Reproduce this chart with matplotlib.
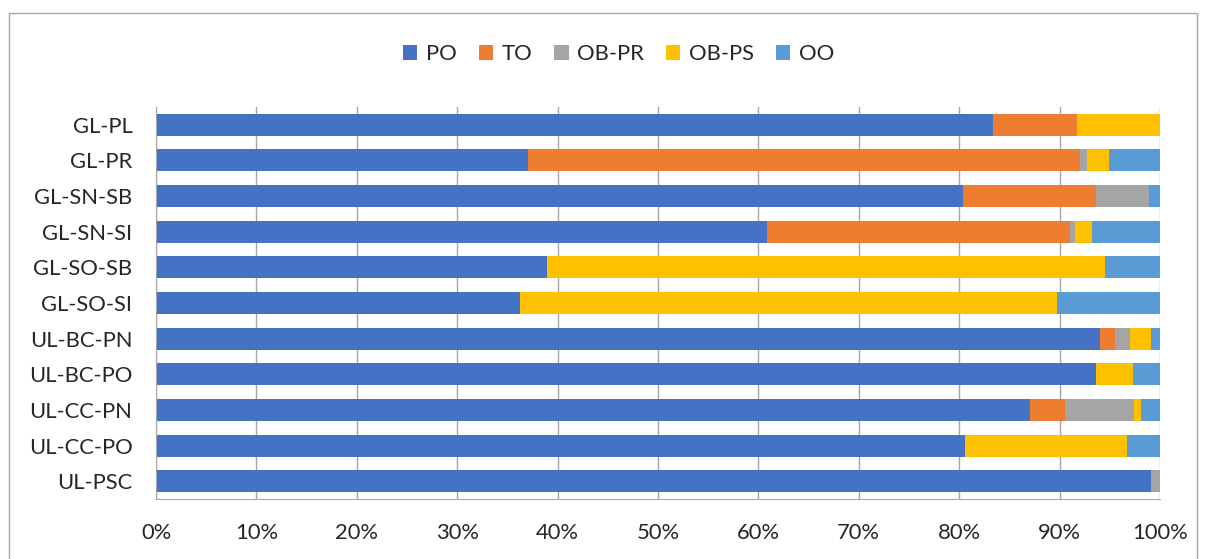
import matplotlib.pyplot as plt
from matplotlib.patches import Rectangle
import numpy as np

plt.rcParams['font.family'] = ['Lato', 'DejaVu Sans']

# sites, top to bottom
sites = ["GL-PL", "GL-PR", "GL-SN-SB", "GL-SN-SI", "GL-SO-SB", "GL-SO-SI",
         "UL-BC-PN", "UL-BC-PO", "UL-CC-PN", "UL-CC-PO", "UL-PSC"]

# share of each category per site (%)
po   = [83.4, 37.0, 80.4, 60.9, 38.9, 36.2, 94.0, 93.6, 87.0, 80.6, 99.1]
to   = [8.3, 55.0, 13.2, 30.1, 0.0, 0.0, 1.5, 0.0, 3.5, 0.0, 0.0]
ob_pr = [0.0, 0.7, 5.3, 0.5, 0.0, 0.0, 1.5, 0.0, 6.9, 0.0, 0.9]
ob_ps = [8.3, 2.2, 0.0, 1.7, 55.6, 53.5, 2.1, 3.7, 0.7, 16.1, 0.0]
oo   = [0.0, 5.1, 1.1, 6.8, 5.5, 10.3, 0.9, 2.7, 1.9, 3.3, 0.0]

series = [("PO", po, "#4472C4"), ("TO", to, "#ED7D31"),
          ("OB-PR", ob_pr, "#A5A5A5"), ("OB-PS", ob_ps, "#FFC000"),
          ("OO", oo, "#5B9BD5")]

fig = plt.figure(figsize=(12.06, 5.59), dpi=100)
ax = fig.add_axes([0.1294, 0.1073, 0.8325, 0.7013])

y = np.arange(len(sites))
total = np.array(po) + np.array(to) + np.array(ob_pr) + np.array(ob_ps) + np.array(oo)
left = np.zeros(len(sites))
for name, vals, col in series:
    w = np.array(vals) / total * 100
    ax.barh(y, w, left=left, height=0.62, color=col, label=name, zorder=2)
    left += w

ax.set_xlim(0, 100)
ax.set_ylim(len(sites) - 0.5, -0.5)
ax.set_yticks(y)
ax.set_yticklabels(sites, fontsize=15.8, color="#262626")
ax.set_xticks(np.arange(0, 101, 10))
ax.set_xticklabels([f"{v}%" for v in range(0, 101, 10)], fontsize=15.8, color="#262626")
ax.tick_params(length=0)
ax.tick_params(axis="y", pad=17)
ax.tick_params(axis="x", pad=17)
ax.grid(axis="x", color="#a6a6a6", linewidth=1, zorder=0)

for s in ["top", "right"]:
    ax.spines[s].set_visible(False)
for s in ["left", "bottom"]:
    ax.spines[s].set_color("#a6a6a6")

fig.legend(loc="center", bbox_to_anchor=(0.513, 1 - 54 / 559), ncol=5,
           frameon=False, fontsize=15.8, handlelength=0.65, handleheight=0.65,
           handletextpad=0.4, columnspacing=1.0, labelcolor="#262626")

# chart area border
fig.patches.append(Rectangle((9 / 1206, -0.02), 1188 / 1206, 1 - 13 / 559 + 0.02,
                             transform=fig.transFigure, fill=False,
                             edgecolor="#a6a6a6", linewidth=1))

fig.savefig("out.png", dpi=100)
